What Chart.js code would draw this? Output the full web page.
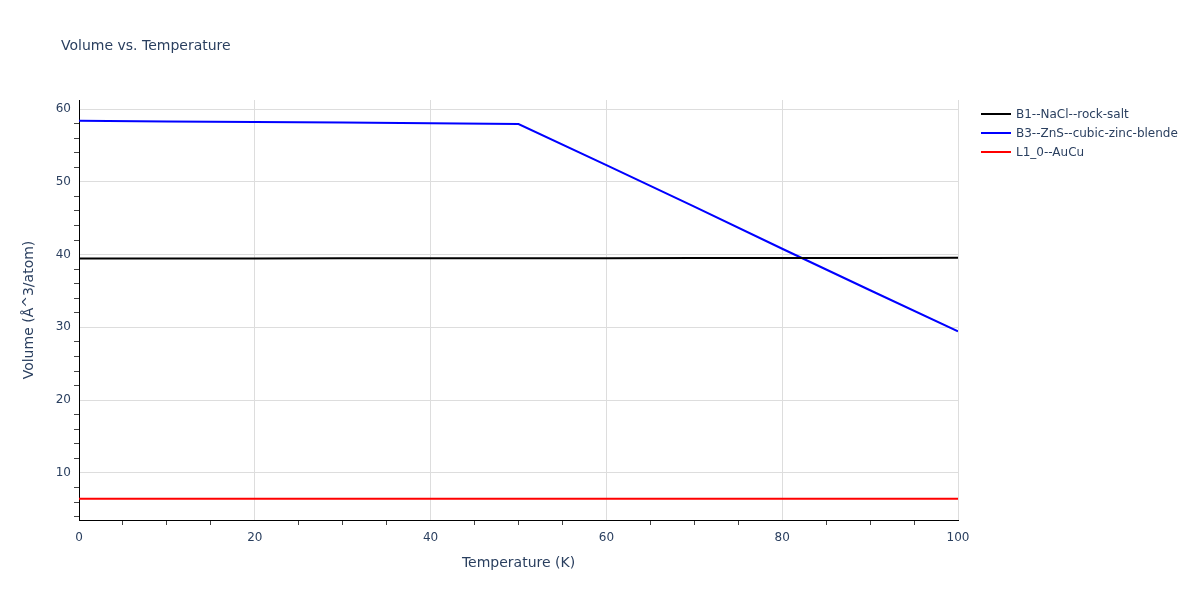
<!DOCTYPE html>
<html>
<head>
<meta charset="utf-8">
<script src="https://cdn.jsdelivr.net/npm/chart.js@4/dist/chart.umd.min.js"></script>
<style>
  body { margin: 0; background: #fff; }
  #wrap { position: relative; width: 1200px; height: 600px; font-family: "DejaVu Sans", Verdana, sans-serif; color: #2a3f5f; }
  #title { position: absolute; left: 61px; top: 36px; font-size: 14px; line-height: 18px; color: #2a3f5f; }
  #legend { position: absolute; left: 981px; top: 104px; font-size: 12px; }
  #legend div { height: 19px; display: flex; align-items: center; white-space: nowrap; }
  #legend span.ln { display: inline-block; width: 30px; height: 2px; margin-right: 5px; }
</style>
</head>
<body>
<div id="wrap">
  <canvas id="myChart" width="1200" height="600"></canvas>
  <div id="title">Volume vs. Temperature</div>
  <div id="legend"></div>
</div>
<script>
const temperatures = [0, 10, 20, 30, 40, 50, 60, 70, 80, 90, 100];
const naclVolume = [39.45, 39.46, 39.47, 39.48, 39.49, 39.5, 39.51, 39.52, 39.53, 39.54, 39.55];
const znsVolume = [58.38, 58.3, 58.22, 58.14, 58.05, 57.94, 52.3, 46.6, 40.8, 35.1, 29.45];
const aucuVolume = [6.46, 6.46, 6.46, 6.46, 6.46, 6.46, 6.46, 6.46, 6.46, 6.46, 6.46];
const seriesNames = ['B1--NaCl--rock-salt', 'B3--ZnS--cubic-zinc-blende', 'L1_0--AuCu'];
const seriesColors = ['#000000', '#0000ff', '#ff0000'];

Chart.defaults.font.family = '"DejaVu Sans", Verdana, sans-serif';
Chart.defaults.color = '#2a3f5f';

const toPoints = (ys) => ys.map((y, i) => ({ x: temperatures[i], y: y }));
const allSeries = [naclVolume, znsVolume, aucuVolume];

// legend as html, built from the datasets
const htmlLegend = {
    id: 'htmlLegend',
    afterUpdate(chart) {
        const box = document.getElementById('legend');
        box.innerHTML = '';
        chart.data.datasets.forEach(ds => {
            const row = document.createElement('div');
            const ln = document.createElement('span');
            ln.className = 'ln';
            ln.style.background = ds.borderColor;
            row.appendChild(ln);
            row.appendChild(document.createTextNode(ds.label));
            box.appendChild(row);
        });
    }
};

const ctx = document.getElementById('myChart').getContext('2d');
new Chart(ctx, {
    type: 'line',
    data: {
        datasets: allSeries.map((s, i) => ({
            label: seriesNames[i],
            data: toPoints(s),
            borderColor: seriesColors[i],
            backgroundColor: seriesColors[i],
            borderWidth: 2,
            pointRadius: 0,
            tension: 0,
            fill: false
        }))
    },
    options: {
        responsive: false,
        animation: false,
        devicePixelRatio: 1,
        layout: { padding: { top: 100, right: 242, left: 0, bottom: 0 } },
        plugins: {
            legend: { display: false },
            title: { display: false },
            tooltip: { enabled: false }
        },
        scales: {
            x: {
                type: 'linear',
                min: 0,
                max: 100,
                afterFit: (scale) => { scale.height = 80; },
                ticks: {
                    stepSize: 5,
                    autoSkip: false,
                    maxRotation: 0,
                    padding: 6,
                    font: { size: 12 },
                    callback: (v) => (v % 20 === 0 ? v : '')
                },
                grid: {
                    drawTicks: true,
                    tickLength: 5,
                    color: (c) => (c.tick && c.tick.value % 20 === 0 && c.tick.value !== 0 ? '#dddddd' : 'rgba(0,0,0,0)'),
                    tickColor: (c) => (c.tick && c.tick.value % 20 === 0 ? 'rgba(0,0,0,0)' : '#444444')
                },
                border: { display: true, color: '#000000', width: 1 },
                title: {
                    display: true,
                    text: 'Temperature (K)',
                    font: { size: 14 },
                    padding: { top: 0, bottom: 28 }
                }
            },
            y: {
                type: 'linear',
                min: 3.53,
                max: 61.24,
                afterFit: (scale) => { scale.width = 79; },
                afterBuildTicks: (scale) => {
                    scale.ticks = scale.ticks.filter(t => Math.abs(t.value / 2 - Math.round(t.value / 2)) < 1e-6);
                },
                ticks: {
                    stepSize: 2,
                    includeBounds: false,
                    autoSkip: false,
                    padding: 3,
                    font: { size: 12 },
                    callback: (v) => (Math.round(v) % 10 === 0 ? v : '')
                },
                grid: {
                    drawTicks: true,
                    tickLength: 5,
                    color: (c) => (c.tick && Math.round(c.tick.value) % 10 === 0 ? '#dddddd' : 'rgba(0,0,0,0)'),
                    tickColor: (c) => (c.tick && Math.round(c.tick.value) % 10 === 0 ? 'rgba(0,0,0,0)' : '#444444')
                },
                border: { display: true, color: '#000000', width: 1 },
                title: {
                    display: true,
                    text: 'Volume (Å^3/atom)',
                    font: { size: 14 },
                    padding: { top: 21, bottom: 0 }
                }
            }
        }
    },
    plugins: [htmlLegend]
});
</script>
</body>
</html>
